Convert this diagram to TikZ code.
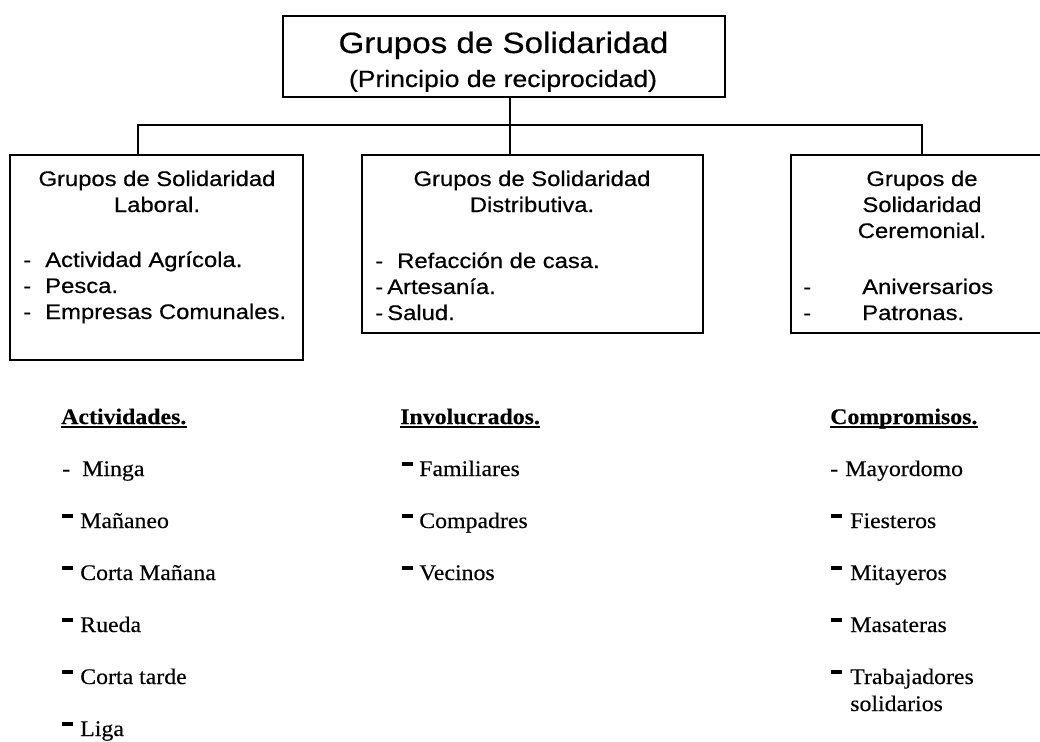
\documentclass[tikz,border=0pt]{standalone}
\usepackage{fontspec}
\newfontfamily\arialfont{Liberation Sans}[FakeStretch=1.13, FakeBold=0.5]
\newfontfamily\timesfont{Liberation Serif}[FakeStretch=1.07, FakeBold=0.3]
\newcommand{\thickdash}{\rule[0.45em]{0.46em}{0.2em}}
\newcommand{\hyph}[2]{\makebox[#1][l]{-}#2}
\newcommand{\tdash}[2]{\makebox[#1][l]{\thickdash}#2}

\tikzset{
	box/.style={draw, line width=1.4pt, inner sep=0pt},
	link/.style={line width=1.4pt},
	uline/.style={line width=1.6pt},
	sans/.style={font=\arialfont\fontsize{15.8}{19}\selectfont, inner sep=0pt},
	serif/.style={font=\timesfont\fontsize{16.7}{20}\selectfont, inner sep=0pt, anchor=base west}
}

\begin{document}
\begin{tikzpicture}[x=0.75pt, y=-0.75pt]
			%%%%% START %%%%%
			\useasboundingbox (0,0) rectangle (1040,742);
			\clip (0,0) rectangle (1040,742);
			
			% boxes
			\node[box, minimum width=331.5pt, minimum height=60.75pt] (top) at (504,56.5) {};
			\node[box, minimum width=219.75pt, minimum height=153.75pt] (lab) at (156.5,257.5) {};
			\node[box, minimum width=255.75pt, minimum height=133.5pt] (dis) at (532.5,244) {};
			\node[box, minimum width=196.5pt, minimum height=133.5pt] (cer) at (922,244) {};
			
			% connectors
			\coordinate (busL) at (138,125);
			\coordinate (busM) at (510,125);
			\coordinate (busR) at (922,125);
			\draw[link] (top.south -| busM) -- (busM |- dis.north);
			\draw[link] (busL |- lab.north) -- (busL) -- (busR) -- (busR |- cer.north);
			
			% title
			\node[inner sep=0pt, anchor=base, font=\arialfont\fontsize{22}{26}\selectfont] (tit1) at (503.5,53) {Grupos de Solidaridad};
			\node[inner sep=0pt, anchor=base, font=\arialfont\fontsize{17.6}{21}\selectfont] (tit2) at (503,87) {(Principio de reciprocidad)};
			
			% laboral
			\node[sans, anchor=base] (lab1) at (157,186) {Grupos de Solidaridad};
			\node[sans, anchor=base] (lab2) at (157,212) {Laboral.};
			\node[sans, anchor=base west] (lab3) at (23,267) {\hyph{16.5pt}{Actividad Agrícola.}};
			\node[sans, anchor=base west] (lab4) at (23,293) {\hyph{16.5pt}{Pesca.}};
			\node[sans, anchor=base west] (lab5) at (23,319) {\hyph{16.5pt}{Empresas Comunales.}};
			
			% distributiva
			\node[sans, anchor=base] (dis1) at (532,186) {Grupos de Solidaridad};
			\node[sans, anchor=base] (dis2) at (532,212) {Distributiva.};
			\node[sans, anchor=base west] (dis3) at (375,268) {\hyph{16.5pt}{Refacción de casa.}};
			\node[sans, anchor=base west] (dis4) at (375,294) {\hyph{9pt}{Artesanía.}};
			\node[sans, anchor=base west] (dis5) at (375,320) {\hyph{9pt}{Salud.}};
			
			% ceremonial
			\node[sans, anchor=base] (cer1) at (922,186) {Grupos de};
			\node[sans, anchor=base] (cer2) at (922,212) {Solidaridad};
			\node[sans, anchor=base] (cer3) at (922,238) {Ceremonial.};
			\node[sans, anchor=base west] (cer4) at (803,294) {\hyph{44.25pt}{Aniversarios}};
			\node[sans, anchor=base west] (cer5) at (803,320) {\hyph{44.25pt}{Patronas.}};
			
			% actividades
			\node[serif] (act) at (61,424) {\textbf{Actividades.}};
			\draw[uline] ([yshift=-2.2pt]act.base west) -- ([yshift=-2.2pt]act.base east);
			\node[serif] (act1) at (62,476) {\hyph{15pt}{Minga}};
			\node[serif] (act2) at (62,528) {\tdash{13.5pt}{Mañaneo}};
			\node[serif] (act3) at (62,580) {\tdash{13.5pt}{Corta Mañana}};
			\node[serif] (act4) at (62,632) {\tdash{13.5pt}{Rueda}};
			\node[serif] (act5) at (62,684) {\tdash{13.5pt}{Corta tarde}};
			\node[serif] (act6) at (62,736) {\tdash{13.5pt}{Liga}};
			
			% involucrados
			\node[serif] (inv) at (400,424) {\textbf{Involucrados.}};
			\draw[uline] ([yshift=-2.2pt]inv.base west) -- ([yshift=-2.2pt]inv.base east);
			\node[serif] (inv1) at (402,476) {\tdash{12.75pt}{Familiares}};
			\node[serif] (inv2) at (402,528) {\tdash{12.75pt}{Compadres}};
			\node[serif] (inv3) at (402,580) {\tdash{12.75pt}{Vecinos}};
			
			% compromisos
			\node[serif] (com) at (830,424) {\textbf{Compromisos.}};
			\draw[uline] ([yshift=-2.2pt]com.base west) -- ([yshift=-2.2pt]com.base east);
			\node[serif] (com1) at (830,476) {\hyph{11.25pt}{Mayordomo}};
			\node[serif] (com2) at (831,528) {\tdash{14.25pt}{Fiesteros}};
			\node[serif] (com3) at (831,580) {\tdash{14.25pt}{Mitayeros}};
			\node[serif] (com4) at (831,632) {\tdash{14.25pt}{Masateras}};
			\node[serif] (com5) at (831,684) {\tdash{14.25pt}{Trabajadores}};
			\node[serif] (com6) at (850,711) {solidarios};
			
			%%%%% END %%%%%
\end{tikzpicture}
\end{document}
